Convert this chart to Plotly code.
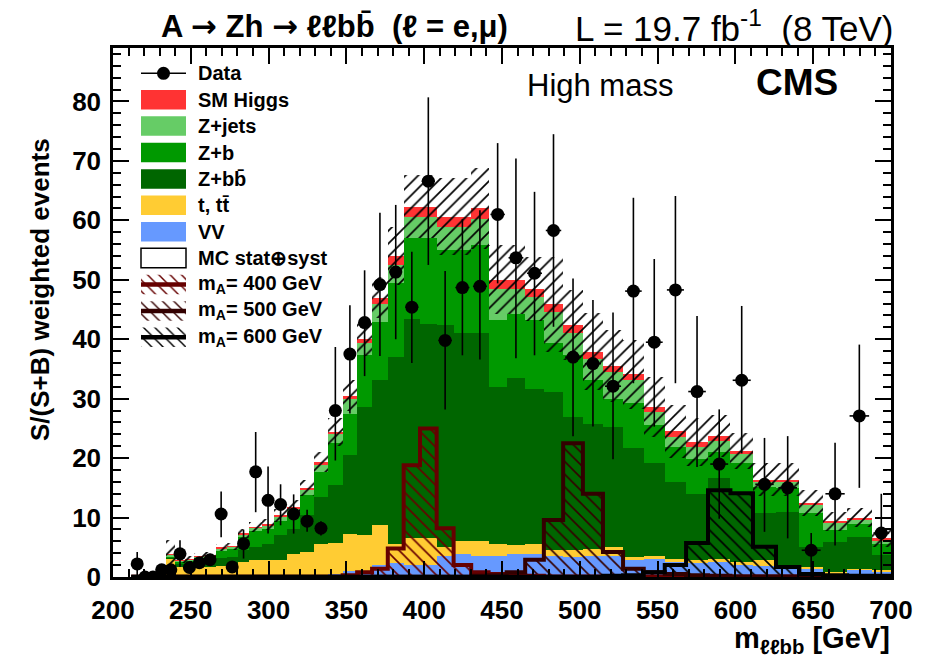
import numpy as np
import plotly.graph_objects as go

# ---------------- data ----------------
edges = [213.0, 218.1, 223.0, 228.4, 234.2, 240.1, 246.0, 252.2, 258.8, 265.9,
         273.1, 280.1, 287.7, 295.7, 303.6, 311.8, 320.4, 329.1, 338.2, 347.6,
         356.9, 366.5, 376.6, 386.8, 397.3, 408.0, 418.9, 430.2, 441.4, 453.0,
         464.9, 476.9, 489.3, 502.0, 514.9, 527.8, 541.1, 554.6, 568.3, 582.4,
         596.8, 611.3, 626.1, 641.1, 656.3, 671.8, 687.5, 700.0]

data_vals = [2.2, 0.0, 0.0, 1.2, 1.2, 3.9, 1.6, 2.4, 2.9, 10.6, 1.7, 5.6, 17.7, 12.9,
             12.2, 10.6, 9.4, 8.2, 28.0, 37.5, 42.8, 49.2, 51.3, 45.4, 66.6, 39.8,
             48.7, 48.9, 61.0, 53.7, 51.1, 58.3, 37.0, 35.9, 32.1, 48.1, 39.5, 48.3,
             31.2, 19.0, 33.1, 15.6, 15.0, 4.5, 14.0, 27.1, 7.4]
data_err_up = [2.0, 0.0, 0.0, 0.8, 0.8, 2.3, 0.8, 0.9, 1.0, 3.8, 0.8, 2.3, 6.7, 5.7,
               3.4, 3.3, 1.9, 1.2, 10.7, 8.2, 8.8, 12.1, 11.3, 9.3, 14.1, 11.7,
               11.5, 12.8, 12.0, 16.7, 13.7, 16.2, 13.2, 10.7, 12.4, 15.7, 14.0, 15.8,
               12.7, 9.2, 12.5, 7.8, 8.7, 2.9, 8.6, 12.0, 6.6]
data_err_dn = [1.9, 0.0, 0.0, 0.8, 0.8, 2.2, 0.8, 0.9, 1.0, 3.9, 0.8, 2.5, 6.8, 5.6,
               3.5, 3.3, 1.8, 1.2, 8.4, 10.0, 9.0, 12.0, 11.3, 9.4, 14.1, 11.6,
               11.4, 12.3, 11.6, 16.9, 13.8, 16.2, 13.3, 10.6, 12.3, 15.5, 14.2, 15.7,
               12.7, 9.2, 12.3, 8.0, 8.5, 4.5, 8.7, 12.1, 7.4]

vv = [0, 0, 0, 0, 0.05, 0.05, 0.05, 0.05, 0.05, 0.1, 0.1, 0.1, 0.1, 0.1, 0.1, 0.2,
      0.3, 0.4, 0.5, 1.0, 1.0, 2.0, 2.3, 2.0, 2.0, 3.6, 3.9, 3.6, 3.6, 3.9, 3.9,
      3.6, 3.4, 3.6, 3.5, 2.8, 3.1, 2.5, 2.3, 2.5, 2.0, 1.9, 1.7, 1.5, 0.6, 1.2, 1.0]
ttbar = [0, 0, 0, 0, 3.05, 1.65, 1.65, 1.55, 1.55, 1.7, 2.0, 2.4, 2.7, 2.8, 2.8, 3.7,
         3.9, 5.2, 5.2, 6.3, 6.0, 6.7, 3.3, 4.5, 4.5, 1.5, 2.2, 2.5, 2.0, 1.5, 1.6,
         0.9, 1.1, 1.1, 1.6, 0.6, 0.4, 0.5, 0.6, 0.6, 0.5, 0.9, 0.3, 0.2, 0.2, 0.2, 0.1]
zbb = [0, 0, 0, 0, 0.1, 0.5, 0.6, 1.0, 1.1, 1.4, 1.3, 2.0, 2.2, 2.6, 4.1, 4.1,
       6.3, 7.9, 9.8, 13.2, 21.6, 24.4, 31.4, 36.9, 36.0, 37.3, 35.0, 35.0, 26.4, 28.0, 26.2,
       26.6, 22.4, 21.1, 20.2, 18.3, 15.6, 13.0, 11.1, 13.6, 11.8, 7.9, 8.9, 3.3, 5.1, 5.3, 2.6]
zb = [0, 0, 0, 0, 0.3, 0.4, 0.4, 0.6, 0.6, 1.3, 1.4, 2.2, 2.7, 2.6, 2.5, 2.8,
      3.3, 4.2, 7.0, 7.0, 8.7, 9.8, 12.4, 13.6, 14.5, 12.6, 13.9, 14.7, 11.3, 10.9, 11.5,
      8.2, 10.4, 7.3, 4.7, 7.5, 6.4, 5.9, 5.9, 4.3, 4.8, 4.5, 4.1, 5.7, 2.0, 2.2, 1.9]
zjets = [0, 0, 0, 0, 0.3, 0.2, 0.2, 0.25, 0.25, 0.3, 0.3, 0.5, 0.6, 0.6, 0.7, 0.8,
         0.9, 1.3, 1.5, 2.5, 2.1, 3.1, 3.1, 3.6, 3.6, 3.9, 3.9, 4.5, 5.1, 4.1, 3.9,
         5.3, 3.8, 3.5, 4.5, 3.9, 2.3, 1.7, 1.9, 1.9, 1.6, 0.8, 1.0, 1.4, 1.2, 0.8, 0.6]
smh = [0, 0, 0, 0, 0.05, 0.05, 0.05, 0.05, 0.05, 0.1, 0.1, 0.1, 0.1, 0.1, 0.2, 0.2,
       0.3, 0.3, 0.4, 0.5, 0.6, 1.0, 1.5, 1.7, 1.7, 1.7, 1.7, 1.7, 1.6, 1.6, 1.4,
       1.3, 1.3, 1.3, 1.0, 1.0, 0.8, 0.9, 0.9, 0.8, 0.5, 0.4, 0.4, 0.4, 0.3, 0.3, 0.3]
mc_unc = [0, 0, 0, 0, 2.3, 0.5, 0.5, 0.5, 0.6, 0.6, 0.6, 0.8, 0.9, 0.9, 1.1, 1.2,
          1.4, 1.7, 2.3, 2.6, 2.8, 3.5, 4.9, 5.3, 5.3, 6.5, 6.5, 6.8, 5.8, 5.8, 5.4,
          8.0, 5.9, 6.5, 6.0, 5.8, 5.0, 4.5, 4.0, 3.5, 3.0, 2.8, 2.8, 2.2, 1.6, 1.6, 1.4]

sig400 = [0.05] * 19 + [0.3, 0.8, 1.4, 4.8, 18.8, 25.0, 8.2, 2.0, 0.8, 0.5, 0.3, 0.2] + [0.1] * 16
sig500 = [0.05] * 27 + [0.2, 0.3, 0.8, 2.9, 9.6, 22.5, 14.0, 4.2, 1.4, 0.8, 0.5, 0.3, 0.2] + [0.1] * 7
sig600 = [0.05] * 34 + [0.2, 0.3, 0.8, 2.0, 5.7, 14.6, 14.1, 5.1, 1.7, 0.5, 0.3, 0.2, 0.2]

x_ticks = [200, 250, 300, 350, 400, 450, 500, 550, 600, 650, 700]
y_ticks = [0, 10, 20, 30, 40, 50, 60, 70, 80]

stack_names = ["VV", "t, tt\u0304", "Z+bb\u0304", "Z+b", "Z+jets", "SM Higgs"]
stack_vals = [vv, ttbar, zbb, zb, zjets, smh]
stack_cols = ["#6699FF", "#FFCC33", "#006600", "#009900", "#66CC66", "#FF3333"]
sig_names = ["m<sub>A</sub>= 400 GeV", "m<sub>A</sub>= 500 GeV", "m<sub>A</sub>= 600 GeV"]
sig_vals = [sig400, sig500, sig600]
sig_cols = ["#660000", "#330000", "#000000"]

# ---------------- geometry ----------------
W, H = 935, 666
ML, MR, MT, MB = 113, 44, 48, 89
PW, PH = W - ML - MR, H - MT - MB


def fx(px):
    return (px - ML) / PW


def fy(py):
    return (H - MB - py) / PH


e = np.array(edges)
widths = np.diff(e)
centers = e[:-1] + widths / 2

fig = go.Figure()

# stacked backgrounds
base = np.zeros(len(centers))
for name, vals, col in zip(stack_names, stack_vals, stack_cols):
    v = np.array(vals, dtype=float)
    fig.add_trace(go.Bar(x=centers, y=v, base=base.copy(), width=widths,
                         marker=dict(color=col, line=dict(width=0)),
                         name=name, showlegend=False))
    base = base + v
total = base

# MC stat+syst band
unc = np.array(mc_unc)
fig.add_trace(go.Bar(x=centers, y=2 * unc, base=total - unc, width=widths,
                     marker=dict(color="rgba(0,0,0,0)", line=dict(width=0),
                                 pattern=dict(shape="/", fgcolor="black", bgcolor="rgba(0,0,0,0)",
                                              fgopacity=1, size=9, solidity=0.19)),
                     showlegend=False))

# signals
for name, vals, col in zip(sig_names, sig_vals, sig_cols):
    v = np.array(vals, dtype=float)
    fig.add_trace(go.Bar(x=centers, y=v, width=widths,
                         marker=dict(color="rgba(0,0,0,0)", line=dict(width=0),
                                     pattern=dict(shape="\\", fgcolor=col, bgcolor="rgba(0,0,0,0)",
                                                  fgopacity=1, size=9, solidity=0.18)),
                         showlegend=False))
    xs = [edges[0]] + list(edges[:-1]) + [edges[-1]]
    ys = [0.0] + list(v) + [0.0]
    fig.add_trace(go.Scatter(x=xs, y=ys, mode="lines", line=dict(shape="hv", color=col, width=4),
                             showlegend=False))

# data
fig.add_trace(go.Scatter(x=centers, y=data_vals, mode="markers",
                         marker=dict(color="black", size=13),
                         error_y=dict(type="data", symmetric=False, array=data_err_up,
                                      arrayminus=data_err_dn, width=0, thickness=1.6, color="black"),
                         error_x=dict(type="data", array=widths / 2 * 0.8, width=0, thickness=1.6,
                                      color="black"),
                         showlegend=False))

# ---------------- legend (drawn manually) ----------------
shapes = []
annots = []
row0, step, bh = 73.3, 26.4, 19.5
bx0, bx1, tx = 141, 186, 196
tfont = "Liberation Sans, Arial, sans-serif"
lfont = dict(family=tfont, size=20, color="black")


def row_y(i):
    return row0 + step * i


# Data entry
yd = row_y(0)
shapes.append(dict(type="line", xref="paper", yref="paper", x0=fx(bx0), x1=fx(bx1),
                   y0=fy(yd), y1=fy(yd), line=dict(color="black", width=1.6)))
shapes.append(dict(type="circle", xref="paper", yref="paper", x0=fx(163.5 - 6.5), x1=fx(163.5 + 6.5),
                   y0=fy(yd + 6.5), y1=fy(yd - 6.5), fillcolor="black", line=dict(width=0)))
annots.append(dict(text="<b>Data</b>", x=fx(tx), y=fy(yd)))

legend_stack = list(zip(stack_names, stack_cols))[::-1]
for i, (name, col) in enumerate(legend_stack, start=1):
    yc = row_y(i)
    shapes.append(dict(type="rect", xref="paper", yref="paper", x0=fx(bx0), x1=fx(bx1),
                       y0=fy(yc + bh / 2), y1=fy(yc - bh / 2), fillcolor=col, line=dict(width=0)))
    annots.append(dict(text="<b>%s</b>" % name, x=fx(tx), y=fy(yc)))

yc = row_y(7)
shapes.append(dict(type="rect", xref="paper", yref="paper", x0=fx(bx0), x1=fx(bx1),
                   y0=fy(yc + bh / 2), y1=fy(yc - bh / 2), fillcolor="white",
                   line=dict(color="black", width=1.5)))
annots.append(dict(text="<b>MC stat\u2295syst</b>", x=fx(tx), y=fy(yc)))

for j, (name, col) in enumerate(zip(sig_names, sig_cols)):
    yc = row_y(8 + j)
    X0, X1, Y0, Y1 = fx(bx0), fx(bx1), fy(yc + bh / 2), fy(yc - bh / 2)
    fig.add_trace(go.Scatter(x=[X0, X1, X1, X0, X0], y=[Y0, Y0, Y1, Y1, Y0], mode="lines",
                             fill="toself", fillcolor="rgba(0,0,0,0)",
                             fillpattern=dict(shape="\\", fgcolor=col, bgcolor="rgba(0,0,0,0)",
                                              fgopacity=1, size=8, solidity=0.18),
                             line=dict(width=0), xaxis="x2", yaxis="y2", showlegend=False,
                             hoverinfo="skip"))
    shapes.append(dict(type="line", xref="paper", yref="paper", x0=X0, x1=X1, y0=fy(yc), y1=fy(yc),
                       line=dict(color=col, width=4.5)))
    annots.append(dict(text="<b>%s</b>" % name, x=fx(tx), y=fy(yc)))

annotations = []
for a in annots:
    annotations.append(dict(text=a["text"], x=a["x"], y=a["y"], xref="paper", yref="paper",
                            xanchor="left", yanchor="middle", showarrow=False, font=lfont))

arrow = '<span style="font-family:DejaVu Sans">\u2192</span>'
annotations += [
    dict(text="<b>A " + arrow + " Zh " + arrow + " \u2113\u2113bb\u0304  (\u2113 = e,\u03bc)</b>",
         x=fx(159), y=fy(26), xref="paper", yref="paper", xanchor="left", yanchor="middle",
         showarrow=False, font=dict(family=tfont, size=31, color="black")),
    dict(text="L = 19.7 fb<sup>-1</sup>  (8 TeV)", x=fx(896), y=fy(26),
         xref="paper", yref="paper", xanchor="right", yanchor="middle", showarrow=False,
         font=dict(family=tfont, size=35, color="black")),
    dict(text="High mass", x=fx(525), y=fy(85), xref="paper", yref="paper",
         xanchor="left", yanchor="middle", showarrow=False,
         font=dict(family=tfont, size=31, color="black")),
    dict(text="<b>CMS</b>", x=fx(754), y=fy(83), xref="paper", yref="paper",
         xanchor="left", yanchor="middle", showarrow=False,
         font=dict(family=tfont, size=37, color="black")),
    dict(text="<b>m<sub>\u2113\u2113bb</sub> [GeV]</b>", x=fx(892), y=fy(640), xref="paper", yref="paper",
         xanchor="right", yanchor="middle", showarrow=False,
         font=dict(family=tfont, size=29, color="black")),
    dict(text="<b>S/(S+B) weighted events</b>", x=fx(40), y=fy(290), xref="paper", yref="paper",
         xanchor="center", yanchor="middle", showarrow=False, textangle=-90,
         font=dict(family=tfont, size=26, color="black")),
]

axis_common = dict(showline=True, linecolor="black", linewidth=2.5, mirror="ticks",
                   ticks="inside", ticklen=16, tickwidth=2, tickcolor="black",
                   showgrid=False, zeroline=False,
                   tickfont=dict(family=tfont, size=26, color="black", weight="bold"))

fig.update_layout(
    width=W, height=H, margin=dict(l=ML, r=MR, t=MT, b=MB),
    paper_bgcolor="white", plot_bgcolor="white", barmode="overlay", bargap=0,
    showlegend=False,
    xaxis=dict(range=[200, 700], tickvals=x_ticks, ticklabelstandoff=8,
               minor=dict(ticks="inside", ticklen=8, tickwidth=1.5, tickcolor="black", dtick=10),
               **axis_common),
    yaxis=dict(range=[0, 89], tickvals=y_ticks, ticklabelstandoff=4,
               minor=dict(ticks="inside", ticklen=8, tickwidth=1.5, tickcolor="black", dtick=2),
               **axis_common),
    xaxis2=dict(overlaying="x", anchor="y2", range=[0, 1], visible=False, fixedrange=True,
                showticklabels=False, ticks=""),
    yaxis2=dict(overlaying="y", anchor="x2", range=[0, 1], visible=False, fixedrange=True,
                showticklabels=False, ticks=""),
    shapes=shapes, annotations=annotations,
)

fig.write_html("out.html")
